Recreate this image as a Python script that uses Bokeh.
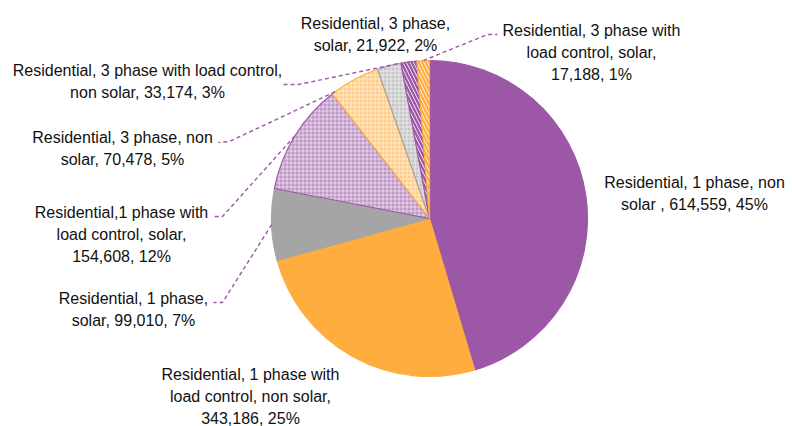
import math
from bokeh.plotting import figure
from bokeh.models import Range1d, ColumnDataSource
from bokeh.core.properties import value
from bokeh.embed import file_html
from bokeh.resources import INLINE

# ---- data ----
categories = [
    "Residential, 1 phase, non\nsolar , 614,559, 45%",
    "Residential, 1 phase with\nload control, non solar,\n343,186, 25%",
    "Residential, 1 phase,\nsolar, 99,010, 7%",
    "Residential,1 phase with\nload control, solar,\n154,608, 12%",
    "Residential, 3 phase, non\nsolar, 70,478, 5%",
    "Residential, 3 phase with load control,\nnon solar, 33,174, 3%",
    "Residential, 3 phase,\nsolar, 21,922, 2%",
    "Residential, 3 phase with\nload control, solar,\n17,188, 1%",
]
values = [614559, 343186, 99010, 154608, 70478, 33174, 21922, 17188]

# ---- styles / layout ----
PURPLE = "#9C57A7"
ORANGE = "#FFAD3E"
GREY = "#A5A5A5"
fills = [PURPLE, ORANGE, GREY, "#C096C7", "#FFCB85", "#C6C6C6", "white", "white"]
lines = [PURPLE, ORANGE, GREY, PURPLE, ORANGE, GREY, PURPLE, ORANGE]
hatches = ["blank", "blank", "blank", "cross", "cross", "cross",
           "left_diagonal_line", "left_diagonal_line"]
hatch_colors = ["white", "white", "white", "white", "white", "white", PURPLE, ORANGE]
hatch_scales = [4, 4, 4, 4, 4, 4, 7, 7]
hatch_weights = [1, 1, 1, 1, 1, 1, 2.4, 2.4]
hatch_alphas = [1, 1, 1, 0.55, 0.55, 0.55, 1, 1]

CX, CY, R = 429, -218, 158
# label first-line centers (x, y) in page pixels
label_pos = [(694, 182), (250, 374), (133, 298), (121, 212), (122, 137),
             (147, 70), (375, 23), (591, 30)]
line_gap = 21.8
# leader: (fraction along slice, elbow point, end point) or None
leaders = [None, None,
           (0.5, (222, 302), (213, 302)),
           (0.5, (222, 216), (213, 216)),
           (0.07, (229, 141), (218, 142)),
           (0.85, (298, 84), (283, 84)),
           None,
           (0.5, (487, 34), (497, 34))]

p = figure(width=792, height=426, output_backend="svg", toolbar_location=None,
           x_range=Range1d(0, 792), y_range=Range1d(-426, 0),
           min_border=0, outline_line_color=None)
p.axis.visible = False
p.grid.visible = False

total = float(sum(values))
cum = [0.0]
for v in values:
    cum.append(cum[-1] + v / total)
starts = [math.pi / 2 - 2 * math.pi * cum[i + 1] for i in range(len(values))]
ends = [math.pi / 2 - 2 * math.pi * cum[i] for i in range(len(values))]

src = ColumnDataSource(dict(start=starts, end=ends, fill=fills, line=lines,
                            hatch=hatches, hcolor=hatch_colors,
                            hscale=hatch_scales, hweight=hatch_weights,
                            halpha=hatch_alphas))
p.wedge(x=CX, y=CY, radius=R, start_angle="start", end_angle="end",
        direction="anticlock", source=src, fill_color="fill", line_color="line",
        line_width=1.2, hatch_pattern="hatch", hatch_color="hcolor",
        hatch_scale="hscale", hatch_weight="hweight", hatch_alpha="halpha")

# leader lines
xs, ys = [], []
for i, ld in enumerate(leaders):
    if ld is None:
        continue
    frac, elbow, end = ld
    a = math.pi / 2 - 2 * math.pi * (cum[i] + frac * (cum[i + 1] - cum[i]))
    ax, ay = CX + R * math.cos(a), CY + R * math.sin(a)
    xs.append([ax, elbow[0], end[0]])
    ys.append([ay, -elbow[1], -end[1]])
p.multi_line(xs=xs, ys=ys, line_color=PURPLE, line_width=1.4, line_dash="4 3")

# labels
tx, ty, tt = [], [], []
for (lx, ly), lab in zip(label_pos, categories):
    for k, part in enumerate(lab.split("\n")):
        tx.append(lx)
        ty.append(-(ly + k * line_gap))
        tt.append(part)
p.text(x=tx, y=ty, text=tt, text_align="center", text_baseline="middle",
       text_font=value("Liberation Sans"), text_font_size="16px",
       text_color="#111111")

open("out.html", "w").write(file_html(p, INLINE))
